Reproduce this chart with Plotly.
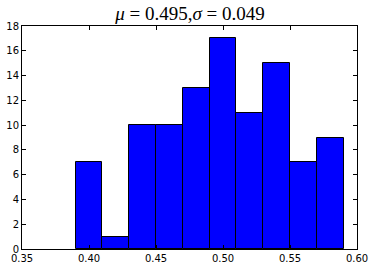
import plotly.graph_objects as go

bin_start = 0.39
bin_width = 0.02
counts = [7, 1, 10, 10, 13, 17, 11, 15, 7, 9]
x_ticks = [0.35, 0.40, 0.45, 0.50, 0.55, 0.60]
x_tick_labels = ["0.35", "0.40", "0.45", "0.50", "0.55", "0.60"]
y_ticks = [0, 2, 4, 6, 8, 10, 12, 14, 16, 18]

centers = [bin_start + bin_width * (i + 0.5) for i in range(len(counts))]

fig = go.Figure(go.Bar(
    x=centers, y=counts, width=[bin_width] * len(counts),
    marker=dict(color="#0000ff", line=dict(color="black", width=1)),
))

axis_common = dict(
    showgrid=False, zeroline=False, showline=True, linecolor="black", linewidth=1,
    mirror="ticks", ticks="inside", ticklen=4, tickcolor="black", automargin=False,
    tickfont=dict(family="DejaVu Sans", size=10, color="black"),
)
fig.update_xaxes(range=[0.35, 0.60], tickvals=x_ticks, ticktext=x_tick_labels, **axis_common)
fig.update_yaxes(range=[0, 18], tickvals=y_ticks, **axis_common)

fig.update_layout(
    width=374, height=270,
    margin=dict(l=22, r=17, t=26, b=21),
    plot_bgcolor="white", paper_bgcolor="white",
    showlegend=False, bargap=0,
    title=dict(
        text="<i>μ</i> = 0.495,<i>σ</i> = 0.049",
        x=0.508, xanchor="center", y=0.95, yanchor="middle",
        font=dict(family="Liberation Serif", size=19, color="black"),
    ),
)

fig.write_html("out.html")
